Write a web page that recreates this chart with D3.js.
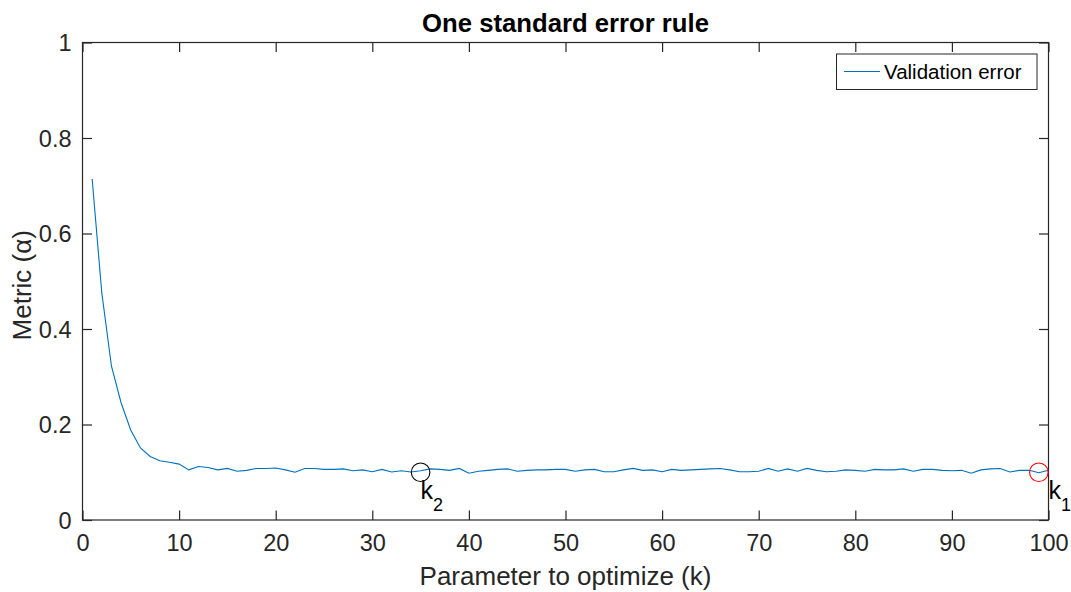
<!DOCTYPE html>
<html>
<head>
<meta charset="utf-8">
<script src="https://cdn.jsdelivr.net/npm/d3@7"></script>
<style>
  body { margin: 0; background: #fff; }
  svg text { font-family: "Liberation Sans", Arial, Helvetica, sans-serif; }
</style>
</head>
<body>
<div id="chart"></div>
<script>
// validation error for k = 1..100
const kValues = d3.range(1, 101);
const errValues = [
  0.714, 0.475, 0.322, 0.245, 0.188, 0.151, 0.133, 0.124, 0.121, 0.117,
  0.105, 0.112, 0.110, 0.105, 0.108, 0.102, 0.104, 0.108, 0.108, 0.109,
  0.105, 0.100, 0.108, 0.108, 0.106, 0.106, 0.107, 0.103, 0.105, 0.101,
  0.106, 0.1005, 0.103, 0.1005, 0.103, 0.107, 0.106, 0.104, 0.108, 0.098,
  0.102, 0.104, 0.106, 0.107, 0.102, 0.104, 0.105, 0.105, 0.106, 0.106,
  0.102, 0.105, 0.106, 0.101, 0.101, 0.105, 0.108, 0.104, 0.105, 0.101,
  0.106, 0.104, 0.105, 0.106, 0.107, 0.108, 0.105, 0.101, 0.101, 0.102,
  0.108, 0.102, 0.107, 0.102, 0.108, 0.104, 0.101, 0.102, 0.105, 0.104,
  0.102, 0.106, 0.105, 0.105, 0.107, 0.102, 0.106, 0.106, 0.104, 0.103,
  0.104, 0.098, 0.105, 0.107, 0.108, 0.1005, 0.104, 0.104, 0.099, 0.104
];
const xTicks = [0, 10, 20, 30, 40, 50, 60, 70, 80, 90, 100];
const yTicks = [0, 0.2, 0.4, 0.6, 0.8, 1];
const yTickLabels = ["0", "0.2", "0.4", "0.6", "0.8", "1"];

// chosen points (one standard error rule)
const markK = [35, 99];
const markVal = [0.1, 0.1];
const markColor = ["#000000", "#ff0000"];
const markLabel = ["k", "k"];
const markSub = ["2", "1"];
const markLabelK = [35, 100];

const W = 1071, H = 592;
const margin = {left: 82.5, right: 22.5, top: 42.5, bottom: 72};
const axisColor = "#262626";

const svg = d3.select("#chart").append("svg")
  .attr("width", W).attr("height", H);

const x = d3.scaleLinear().domain([0, 100]).range([margin.left, W - margin.right]);
const y = d3.scaleLinear().domain([0, 1]).range([H - margin.bottom, margin.top]);

// box
svg.append("rect")
  .attr("x", x(0)).attr("y", y(1))
  .attr("width", x(100) - x(0)).attr("height", y(0) - y(1))
  .attr("fill", "#fff")
  .attr("stroke", axisColor).attr("stroke-width", 1.2);

const tickLen = 9.5;
// ticks on all four sides, pointing inward
const xAxisB = d3.axisBottom(x).tickValues(xTicks).tickSizeInner(-tickLen).tickSizeOuter(0).tickPadding(14);
const xAxisT = d3.axisTop(x).tickValues(xTicks).tickSizeInner(-tickLen).tickSizeOuter(0).tickFormat("");
const yAxisL = d3.axisLeft(y).tickValues(yTicks).tickSizeInner(-tickLen).tickSizeOuter(0).tickPadding(11)
  .tickFormat((d, i) => yTickLabels[i]);
const yAxisR = d3.axisRight(y).tickValues(yTicks).tickSizeInner(-tickLen).tickSizeOuter(0).tickFormat("");

function styleAxis(g) {
  g.select(".domain").remove();
  g.selectAll(".tick line").attr("stroke", axisColor).attr("stroke-width", 1.2);
  g.selectAll(".tick text").attr("fill", axisColor).style("font-size", "23.5px");
}

svg.append("g").attr("transform", `translate(0,${y(0)})`).call(xAxisB).call(styleAxis)
  .selectAll(".tick text").attr("dy", "0.71em");
svg.append("g").attr("transform", `translate(0,${y(1)})`).call(xAxisT).call(styleAxis);
svg.append("g").attr("transform", `translate(${x(0)},0)`).call(yAxisL).call(styleAxis)
  .selectAll(".tick text").attr("dy", "0.36em");
svg.append("g").attr("transform", `translate(${x(100)},0)`).call(yAxisR).call(styleAxis);

// error curve
const line = d3.line()
  .x((d, i) => x(kValues[i]))
  .y(d => y(d));

svg.append("path")
  .datum(errValues)
  .attr("fill", "none")
  .attr("stroke", "#0072BD")
  .attr("stroke-width", 1.1)
  .attr("d", line);

// markers + k labels
markK.forEach(function (k, i) {
  svg.append("circle")
    .attr("cx", x(k)).attr("cy", y(markVal[i]))
    .attr("r", 9.3)
    .attr("fill", "none")
    .attr("stroke", markColor[i])
    .attr("stroke-width", 1.1);

  let t = svg.append("text")
    .attr("x", x(markLabelK[i]))
    .attr("y", y(markVal[i]) + 26.5)
    .attr("fill", "#000")
    .style("font-size", "25px");
  t.append("tspan").text(markLabel[i]);
  t.append("tspan").attr("dy", 12.5).style("font-size", "18px").text(markSub[i]);
});

// legend
const leg = svg.append("g");
leg.append("rect")
  .attr("x", 836.5).attr("y", 54)
  .attr("width", 200.5).attr("height", 35.5)
  .attr("fill", "#fff")
  .attr("stroke", axisColor).attr("stroke-width", 1);
leg.append("line")
  .attr("x1", 844).attr("x2", 880)
  .attr("y1", 71.5).attr("y2", 71.5)
  .attr("stroke", "#0072BD").attr("stroke-width", 1.1);
leg.append("text")
  .attr("x", 884).attr("y", 79)
  .attr("fill", "#000")
  .style("font-size", "20.5px")
  .text("Validation error");

// title and axis labels
svg.append("text")
  .attr("x", (x(0) + x(100)) / 2).attr("y", 31.5)
  .attr("text-anchor", "middle")
  .attr("fill", "#000")
  .style("font-size", "25.7px").style("font-weight", "bold")
  .text("One standard error rule");

svg.append("text")
  .attr("x", (x(0) + x(100)) / 2).attr("y", 585)
  .attr("text-anchor", "middle")
  .attr("fill", axisColor)
  .style("font-size", "26px")
  .text("Parameter to optimize (k)");

svg.append("text")
  .attr("transform", `translate(31,${(y(0) + y(1)) / 2 + 4}) rotate(-90)`)
  .attr("text-anchor", "middle")
  .attr("fill", axisColor)
  .style("font-size", "26px")
  .text("Metric (α)");
</script>
</body>
</html>
